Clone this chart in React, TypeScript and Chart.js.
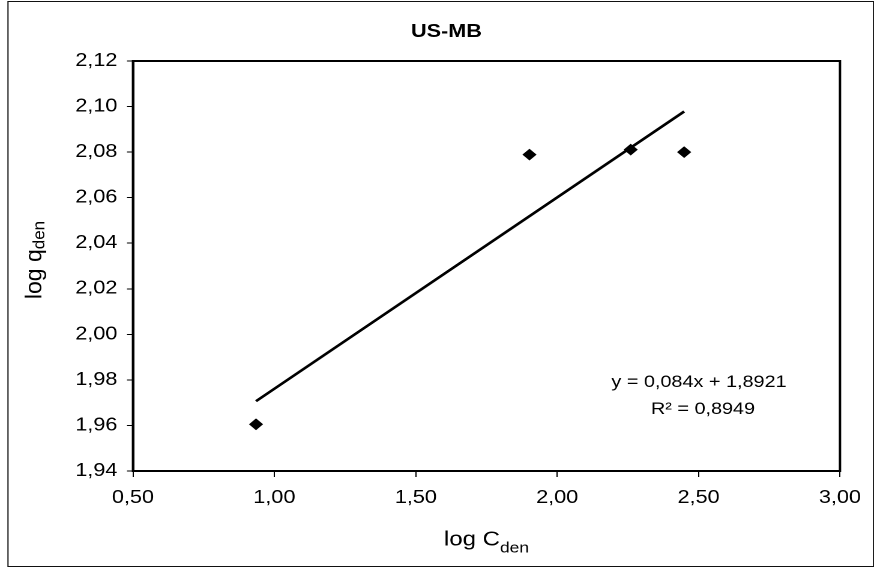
import React, { useEffect, useRef } from 'react';
import { Chart, registerables } from 'chart.js';

Chart.register(...registerables);

// ---- data ----
const xValues = [0.935, 1.902, 2.26, 2.449];
const yValues = [1.9605, 2.0789, 2.0811, 2.08];
const trendSlope = 0.084;
const trendIntercept = 1.8921;
const xMin = 0.5;
const xMax = 3.0;
const xStep = 0.5;
const yMin = 1.94;
const yMax = 2.12;
const yStep = 0.02;
const titleText = 'US-MB';
const equationText = 'y = 0,084x + 1,8921';
const r2Text = 'R² = 0,8949';
const xTitleMain = 'log C';
const yTitleMain = 'log q';
const titleSub = 'den';

const FONT = "'Liberation Sans', Arial, Helvetica, sans-serif";
const CSS_W = 874;
const CSS_H = 571;
const INNER_W = 728;
const S = CSS_W / INNER_W;
const X = (rx: number) => rx / S;

function fmt(v: number) {
  return Number(v).toFixed(2).replace('.', ',');
}

function drawSub(ctx: CanvasRenderingContext2D, main: string, sub: string, cx: number, by: number, F: number, f: number, off: number) {
  ctx.font = `${F}px ${FONT}`;
  const w1 = ctx.measureText(main).width;
  ctx.font = `${f}px ${FONT}`;
  const w2 = ctx.measureText(sub).width;
  const x0 = cx - (w1 + w2) / 2;
  ctx.textAlign = 'left';
  ctx.textBaseline = 'alphabetic';
  ctx.font = `${F}px ${FONT}`;
  ctx.fillText(main, x0, by);
  ctx.font = `${f}px ${FONT}`;
  ctx.fillText(sub, x0 + w1, by + off);
}

const decoPlugin = {
  id: 'deco',
  afterDraw(chart: any) {
    const ctx: CanvasRenderingContext2D = chart.ctx;
    const a = chart.chartArea;
    ctx.save();
    ctx.strokeStyle = '#000';
    ctx.lineWidth = 2;
    ctx.strokeRect(a.left, a.top, a.right - a.left, a.bottom - a.top);
    ctx.lineWidth = 1;
    ctx.strokeStyle = '#111';
    ctx.strokeRect(X(8), 1.5, X(873.5) - X(8), 565);

    ctx.fillStyle = '#000';
    ctx.textAlign = 'center';
    ctx.textBaseline = 'alphabetic';
    ctx.font = `bold 18px ${FONT}`;
    ctx.fillText(titleText, X(446.5), 37);

    ctx.font = `16.5px ${FONT}`;
    ctx.fillText(equationText, X(699), 387);
    ctx.fillText(r2Text, X(703), 414);

    drawSub(ctx, xTitleMain, titleSub, (a.left + a.right) / 2, 545.5, 20, 14.5, 7);

    ctx.save();
    ctx.translate(X(41.5), 260);
    ctx.scale(1 / S, 1);
    ctx.rotate(-Math.PI / 2);
    drawSub(ctx, yTitleMain, titleSub, 0, 0, 23, 17, 3);
    ctx.restore();

    ctx.restore();
  },
};

export default function App() {
  const ref = useRef<HTMLCanvasElement>(null);
  useEffect(() => {
    if (!ref.current) return;
    const tx0 = Math.min(...xValues);
    const tx1 = Math.max(...xValues);
    const trend = [
      { x: tx0, y: trendSlope * tx0 + trendIntercept },
      { x: tx1, y: trendSlope * tx1 + trendIntercept },
    ];
    const points = xValues.map((x, i) => ({ x, y: yValues[i] }));
    const chart = new Chart(ref.current, {
      type: 'scatter',
      data: {
        datasets: [
          {
            type: 'line',
            data: trend,
            borderColor: '#000',
            borderWidth: 2.5,
            pointRadius: 0,
            showLine: true,
            fill: false,
          } as any,
          {
            data: points,
            pointStyle: 'rectRot',
            pointRadius: 5.2,
            pointBackgroundColor: '#000',
            pointBorderColor: '#000',
            pointBorderWidth: 1,
          },
        ],
      },
      options: {
        responsive: false,
        devicePixelRatio: 2,
        animation: false,
        events: [],
        layout: { padding: { top: 61, right: INNER_W - X(840), left: 0, bottom: 0 } },
        plugins: { legend: { display: false }, tooltip: { enabled: false }, title: { display: false } },
        scales: {
          x: {
            type: 'linear',
            min: xMin,
            max: xMax,
            afterFit: (s: any) => { s.height = CSS_H - 471; },
            ticks: { stepSize: xStep, callback: (v: any) => fmt(v), color: '#000', font: { family: FONT, size: 18 }, padding: 10, maxRotation: 0 },
            grid: { drawOnChartArea: false, drawTicks: true, tickLength: 6, color: '#000', lineWidth: 1 },
            border: { display: true, color: '#000', width: 2 },
          },
          y: {
            type: 'linear',
            min: yMin,
            max: yMax,
            afterFit: (s: any) => { s.width = X(133); },
            ticks: { stepSize: yStep, callback: (v: any) => fmt(v), color: '#000', font: { family: FONT, size: 18 }, padding: 8 },
            grid: { drawOnChartArea: false, drawTicks: true, tickLength: 5, color: '#000', lineWidth: 1 },
            border: { display: true, color: '#000', width: 2 },
          },
        },
      },
      plugins: [decoPlugin],
    });
    return () => chart.destroy();
  }, []);
  return (
    <canvas
      ref={ref}
      width={INNER_W}
      height={CSS_H}
      style={{ position: 'absolute', left: 0, top: 0, width: CSS_W + 'px', height: CSS_H + 'px', background: '#fff' }}
    />
  );
}
